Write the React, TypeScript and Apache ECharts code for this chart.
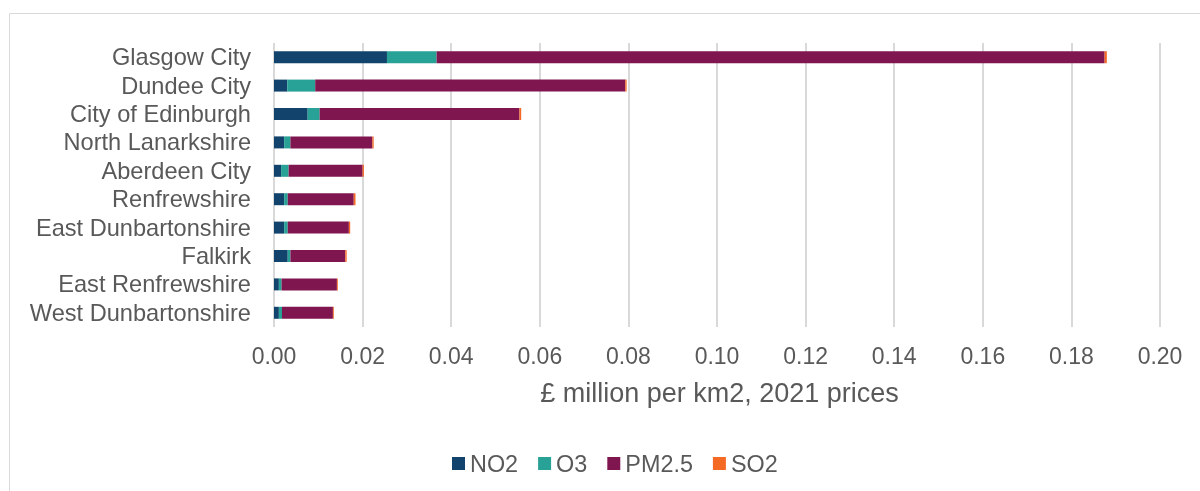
import React, { useEffect, useRef } from "react";
import * as echarts from "echarts";

const categories = [
  "Glasgow City",
  "Dundee City",
  "City of Edinburgh",
  "North Lanarkshire",
  "Aberdeen City",
  "Renfrewshire",
  "East Dunbartonshire",
  "Falkirk",
  "East Renfrewshire",
  "West Dunbartonshire",
];
const no2 = [0.0255, 0.003, 0.0076, 0.0023, 0.0016, 0.0023, 0.0023, 0.0031, 0.0011, 0.0011];
const o3 = [0.0112, 0.0063, 0.0027, 0.0014, 0.0017, 0.0008, 0.0008, 0.0006, 0.0006, 0.0007];
const pm25 = [0.1508, 0.07, 0.0451, 0.0185, 0.0167, 0.0149, 0.0138, 0.0124, 0.0125, 0.0115];
const so2 = [0.0005, 0.0003, 0.0004, 0.0003, 0.0003, 0.0004, 0.0003, 0.0003, 0.0002, 0.0002];
const seriesNames = ["NO2", "O3", "PM2.5", "SO2"];
const colors = ["#12436D", "#28A197", "#801650", "#F46A25"];
const axisTitle = "£ million per km2, 2021 prices";

export default function App() {
  const ref = useRef<HTMLDivElement>(null);
  useEffect(() => {
    if (!ref.current) return;
    const chart = echarts.init(ref.current, null, { renderer: "svg" });
    const font = "'Liberation Sans', Arial, sans-serif";
    const data = [no2, o3, pm25, so2];
    chart.setOption({
      animation: false,
      textStyle: { fontFamily: font },
      graphic: [
        {
          type: "rect",
          shape: { x: 9.5, y: 13.5, width: 1200, height: 500 },
          style: { fill: "none", stroke: "#d9d9d9", lineWidth: 1 },
          silent: true,
        },
      ],
      grid: { left: 274, right: 40, top: 43, bottom: 491 - 327 },
      xAxis: {
        type: "value",
        min: 0,
        max: 0.2,
        interval: 0.02,
        axisLabel: {
          formatter: (v: number) => v.toFixed(2),
          color: "#595959",
          fontSize: 23,
          margin: 17,
          fontFamily: font,
        },
        axisLine: { show: false },
        axisTick: { show: false },
        splitLine: { lineStyle: { color: "#d9d9d9", width: 2 } },
        name: axisTitle,
        nameLocation: "middle",
        nameGap: 52,
        nameTextStyle: { color: "#595959", fontSize: 27, fontFamily: font, padding: [0, 0, 0, 5] },
      },
      yAxis: {
        type: "category",
        data: categories,
        inverse: true,
        axisLabel: {
          color: "#595959",
          fontSize: 23.6,
          margin: 23,
          interval: 0,
          fontFamily: font,
        },
        axisLine: { show: false },
        axisTick: { show: false },
      },
      legend: {
        top: 452,
        left: 452,
        padding: 0,
        itemWidth: 13,
        itemHeight: 13,
        itemGap: 20,
        icon: "rect",
        textStyle: { color: "#595959", fontSize: 23.4, fontFamily: font },
        data: seriesNames,
      },
      series: seriesNames.map((name, i) => ({
        name,
        type: "bar",
        stack: "total",
        barWidth: 12,
        itemStyle: { color: colors[i] },
        data: data[i],
      })),
    });
    return () => chart.dispose();
  }, []);
  return (
    <div
      ref={ref}
      style={{ position: "fixed", left: 0, top: 0, width: 1200, height: 491 }}
    />
  );
}
